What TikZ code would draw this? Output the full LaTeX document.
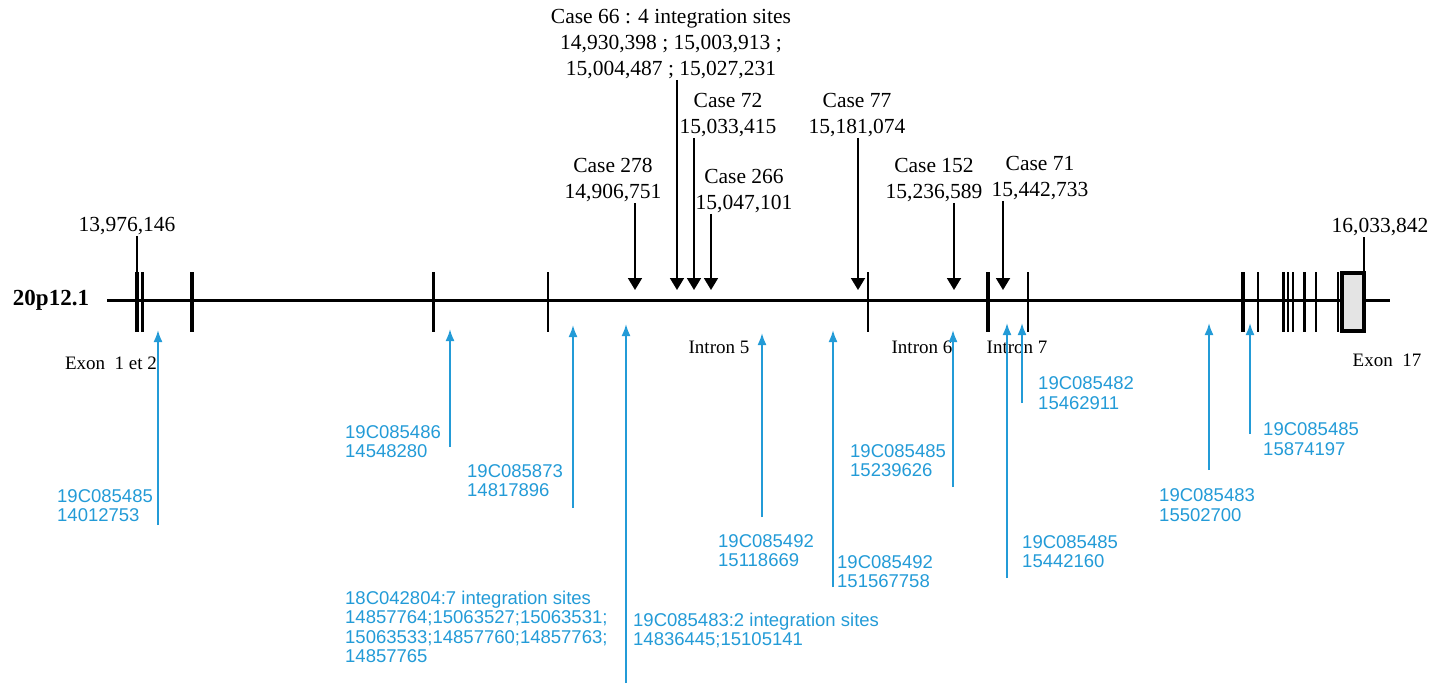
\documentclass[tikz,border=0pt]{standalone}
\usepackage{fontspec}
\usepackage{tikz}
\usetikzlibrary{arrows.meta, positioning, calc}
\setmainfont{Liberation Serif}
\newfontfamily\sitefont{Liberation Sans}
\definecolor{siteblue}{RGB}{35, 155, 215}
\definecolor{exongray}{RGB}{228, 228, 228}
\tikzset{
    casetxt/.style={font=\fontsize{21.5}{26}\selectfont, align=center, inner sep=1pt},
    regiontxt/.style={font=\fontsize{19}{22}\selectfont, inner sep=0pt},
    sitetxt/.style={font=\sitefont\fontsize{18.5}{19.5}\selectfont, text=siteblue,
                    align=left, anchor=west, inner sep=0pt},
    casearrow/.style={line width=1.8pt, -{Triangle[width=14pt,length=12pt]}},
    sitearrow/.style={draw=siteblue, line width=1.9pt, -{Latex[width=9pt,length=12pt]}},
    thickexon/.style={line width=4pt},
    thinexon/.style={line width=2pt}
}

\begin{document}
\begin{tikzpicture}[x=1pt, y=-1pt]
        \useasboundingbox (0,0) rectangle (1447,683);

        % chromosome band and gene backbone
        \node[font=\fontsize{23}{26}\selectfont\bfseries, inner sep=0pt] (band) at (51,300) {20p12.1};
        \draw[line width=3pt] (107,300) -- (1390,300);

        % exons
        \draw[thickexon] (137,272) -- (137,332);
        \draw[line width=3pt] (142,272) -- (142,332);
        \draw[thickexon] (192,272) -- (192,332);
        \draw[line width=3pt] (433,272) -- (433,332);
        \draw[thinexon] (548,272) -- (548,332);
        \draw[thinexon] (868,272) -- (868,332);
        \draw[line width=3.5pt] (988,272) -- (988,332);
        \draw[thinexon] (1028,272) -- (1028,332);
        \draw[line width=3.5pt] (1243,272) -- (1243,332);
        \draw[thinexon] (1258,272) -- (1258,332);
        \draw[line width=3pt] (1283,272) -- (1283,332);
        \draw[thinexon] (1288,272) -- (1288,332);
        \draw[thinexon] (1293,272) -- (1293,332);
        \draw[line width=3pt] (1304,272) -- (1304,332);
        \draw[thinexon] (1316,272) -- (1316,332);
        \draw[thinexon] (1338,272) -- (1338,332);
        \draw[line width=3.5pt, fill=exongray] (1342,273) rectangle (1364,331);

        % gene ends
        \coordinate (start) at (137,272);
        \coordinate (stop) at (1364,273);
        \node[casetxt] (startpos) at (127,226) {13,976,146};
        \node[casetxt] (stoppos) at (1380,227) {16,033,842};
        \draw[line width=1.4pt] (startpos.south -| start) -- (start);
        \draw[line width=1.4pt] (stoppos.south -| stop) -- (stop);

        \node[regiontxt] (exon12) at (111,363) {Exon\enspace 1 et 2};
        \node[regiontxt] (intron5) at (719,347) {Intron 5};
        \node[regiontxt] (intron6) at (922,347) {Intron 6};
        \node[regiontxt] (intron7) at (1017,347) {Intron 7};
        \node[regiontxt] (exon17) at (1387,360) {Exon\enspace 17};

        % patient cases (above)
        \node[casetxt] (case66) at (671,44) {Case 66 : 4 integration sites\\14,930,398 ; 15,003,913 ;\\15,004,487 ; 15,027,231};
        \node[casetxt] (case72) at (728,115) {Case 72\\15,033,415};
        \node[casetxt] (case77) at (857,115) {Case 77\\15,181,074};
        \node[casetxt] (case278) at (613,180) {Case 278\\14,906,751};
        \node[casetxt] (case266) at (744,191) {Case 266\\15,047,101};
        \node[casetxt] (case152) at (934,180) {Case 152\\15,236,589};
        \node[casetxt] (case71) at (1040,178) {Case 71\\15,442,733};

        \coordinate (hit278) at (635,290);
        \coordinate (hit66) at (677,290);
        \coordinate (hit72) at (694,290);
        \coordinate (hit266) at (711,290);
        \coordinate (hit77) at (858,290);
        \coordinate (hit152) at (954,290);
        \coordinate (hit71) at (1003,290);

        \draw[casearrow] (case278.south -| hit278) -- (hit278);
        \draw[casearrow] (case66.south -| hit66) -- (hit66);
        \draw[casearrow] (case72.south -| hit72) -- (hit72);
        \draw[casearrow] (case266.south -| hit266) -- (hit266);
        \draw[casearrow] (case77.south -| hit77) -- (hit77);
        \draw[casearrow] (case152.south -| hit152) -- (hit152);
        \draw[casearrow] (case71.south -| hit71) -- (hit71);

        % integration sites (below)
        \node[sitetxt] (site1) at (57,505.5) {19C085485\\14012753};
        \node[sitetxt] (site2) at (345,441.5) {19C085486\\14548280};
        \node[sitetxt] (site3) at (467,480.5) {19C085873\\14817896};
        \node[sitetxt] (site4a) at (345,627) {18C042804:7 integration sites\\14857764;15063527;15063531;\\15063533;14857760;14857763;\\14857765};
        \node[sitetxt] (site4b) at (633,630.5) {19C085483:2 integration sites\\14836445;15105141};
        \node[sitetxt] (site5) at (718,550.5) {19C085492\\15118669};
        \node[sitetxt] (site6) at (837,571.5) {19C085492\\151567758};
        \node[sitetxt] (site7) at (850,460.5) {19C085485\\15239626};
        \node[sitetxt] (site8) at (1022,551.5) {19C085485\\15442160};
        \node[sitetxt] (site9) at (1038,393) {19C085482\\15462911};
        \node[sitetxt] (site10) at (1159,505) {19C085483\\15502700};
        \node[sitetxt] (site11) at (1263,439) {19C085485\\15874197};

        \coordinate (tip1) at (158,330);   \coordinate (foot1) at (158,525);
        \coordinate (tip2) at (450,329);   \coordinate (foot2) at (450,447);
        \coordinate (tip3) at (573,325);   \coordinate (foot3) at (573,508);
        \coordinate (tip4) at (626,324);   \coordinate (foot4) at (626,683);
        \coordinate (tip5) at (762,333);   \coordinate (foot5) at (762,517);
        \coordinate (tip6) at (833,330);   \coordinate (foot6) at (833,587);
        \coordinate (tip7) at (953,330);   \coordinate (foot7) at (953,487);
        \coordinate (tip8) at (1007,323);  \coordinate (foot8) at (1007,578);
        \coordinate (tip9) at (1022,323);  \coordinate (foot9) at (1022,403);
        \coordinate (tip10) at (1209,323); \coordinate (foot10) at (1209,470);
        \coordinate (tip11) at (1250,323); \coordinate (foot11) at (1250,434);

        \draw[sitearrow] (foot1) -- (tip1);
        \draw[sitearrow] (foot2) -- (tip2);
        \draw[sitearrow] (foot3) -- (tip3);
        \draw[sitearrow] (foot4) -- (tip4);
        \draw[sitearrow] (foot5) -- (tip5);
        \draw[sitearrow] (foot6) -- (tip6);
        \draw[sitearrow] (foot7) -- (tip7);
        \draw[sitearrow] (foot8) -- (tip8);
        \draw[sitearrow] (foot9) -- (tip9);
        \draw[sitearrow] (foot10) -- (tip10);
        \draw[sitearrow] (foot11) -- (tip11);
    \end{tikzpicture}
\end{document}
